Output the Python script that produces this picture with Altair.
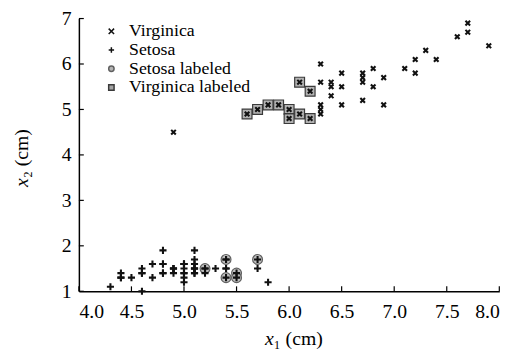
import altair as alt
import pandas as pd

# ---- data ----
setosa_x = [5.1, 4.9, 4.7, 4.6, 5.0, 5.4, 4.6, 5.0, 4.4, 4.9, 5.4, 4.8, 4.8, 4.3, 5.8, 5.7, 5.4,
            5.1, 5.7, 5.1, 5.4, 5.1, 4.6, 5.1, 4.8, 5.0, 5.0, 5.2, 5.2, 4.7, 4.8, 5.4, 5.2, 5.5,
            4.9, 5.0, 5.5, 4.9, 4.4, 5.1, 5.0, 4.5, 4.4, 5.0, 5.1, 4.8, 5.1, 4.6, 5.3, 5.0]
setosa_y = [1.4, 1.4, 1.3, 1.5, 1.4, 1.7, 1.4, 1.5, 1.4, 1.5, 1.5, 1.6, 1.4, 1.1, 1.2, 1.5, 1.3,
            1.4, 1.7, 1.5, 1.7, 1.5, 1.0, 1.7, 1.9, 1.6, 1.6, 1.5, 1.4, 1.6, 1.6, 1.5, 1.5, 1.4,
            1.5, 1.2, 1.3, 1.5, 1.3, 1.5, 1.3, 1.3, 1.3, 1.6, 1.9, 1.4, 1.6, 1.4, 1.5, 1.4]

virg_x = [5.6, 5.7, 5.8, 5.9, 6.0, 6.0, 6.1, 6.2, 6.1, 6.2,
          4.9, 6.3, 6.3, 6.3, 6.3, 6.3, 6.4, 6.4, 6.4, 6.5, 6.5, 6.5, 6.7, 6.7, 6.7, 6.7,
          6.8, 6.8, 6.9, 6.9, 7.1, 7.2, 7.2, 7.3, 7.4, 7.6, 7.7, 7.7, 7.9]
virg_y = [4.9, 5.0, 5.1, 5.1, 5.0, 4.8, 4.9, 4.8, 5.6, 5.4,
          4.5, 6.0, 5.6, 5.1, 5.0, 4.9, 5.6, 5.5, 5.3, 5.8, 5.5, 5.1, 5.8, 5.7, 5.6, 5.2,
          5.9, 5.5, 5.7, 5.1, 5.9, 6.1, 5.8, 6.3, 6.1, 6.6, 6.9, 6.7, 6.4]

setosa_lab_x = [5.2, 5.4, 5.4, 5.5, 5.5, 5.7]
setosa_lab_y = [1.5, 1.7, 1.3, 1.4, 1.3, 1.7]

virg_lab_x = [5.6, 5.7, 5.8, 5.9, 6.0, 6.0, 6.1, 6.2, 6.1, 6.2]
virg_lab_y = [4.9, 5.0, 5.1, 5.1, 5.0, 4.8, 4.9, 4.8, 5.6, 5.4]

series_order = ["Virginica", "Setosa", "Setosa labeled", "Virginica labeled"]
x_ticks = [4.0, 4.5, 5.0, 5.5, 6.0, 6.5, 7.0, 7.5, 8.0]
y_ticks = [1, 2, 3, 4, 5, 6, 7]

W, H = 427, 277
FONT = "Liberation Serif"

pts = pd.concat([
    pd.DataFrame({"x": virg_x, "y": virg_y, "series": "Virginica"}),
    pd.DataFrame({"x": setosa_x, "y": setosa_y, "series": "Setosa"}),
])
lab = pd.concat([
    pd.DataFrame({"x": setosa_lab_x, "y": setosa_lab_y, "series": "Setosa labeled"}),
    pd.DataFrame({"x": virg_lab_x, "y": virg_lab_y, "series": "Virginica labeled"}),
])

xpath = "M-1,-1L1,1M1,-1L-1,1"
pluspath = "M-1,0L1,0M0,-1L0,1"

xs = alt.Scale(domain=[4, 8], nice=False, zero=False)
ys = alt.Scale(domain=[1, 7], nice=False, zero=False)

xaxis = alt.Axis(values=x_ticks, format=".1f", tickSize=0, grid=False, title=None,
                 labelPadding=11, labelFont=FONT, labelFontSize=20)
yaxis = alt.Axis(values=y_ticks, format="d", tickSize=0, grid=False, title=None,
                 labelPadding=8, labelFont=FONT, labelFontSize=20)

enc_common = dict(
    x=alt.X("x:Q", scale=xs, axis=xaxis),
    y=alt.Y("y:Q", scale=ys, axis=yaxis),
    shape=alt.Shape("series:N", scale=alt.Scale(domain=series_order,
                    range=[xpath, pluspath, "circle", "square"]), title=None),
    fill=alt.Fill("series:N", scale=alt.Scale(domain=series_order,
                  range=["transparent", "transparent", "#b4b4b4", "#a4a4a4"]), title=None),
    stroke=alt.Stroke("series:N", scale=alt.Scale(domain=series_order,
                      range=["#111111", "#111111", "#606060", "#3a3a3a"]), title=None),
)

lab_layer = alt.Chart(lab).mark_point(size=100, strokeWidth=1.2, opacity=1, filled=False).encode(
    **enc_common,
    fillOpacity=alt.value(0.85),
)
pts_layer = alt.Chart(pts).mark_point(strokeWidth=2.1, opacity=1).encode(
    **enc_common,
    size=alt.condition(alt.datum.series == "Setosa", alt.value(52), alt.value(22)),
)

xt = alt.Chart(pd.DataFrame({"v": x_ticks})).mark_rule(color="black", strokeWidth=1.2).encode(
    x=alt.X("v:Q", scale=xs), y=alt.value(H), y2=alt.value(H - 5))
yt = alt.Chart(pd.DataFrame({"v": y_ticks})).mark_rule(color="black", strokeWidth=1.2).encode(
    y=alt.Y("v:Q", scale=ys), x=alt.value(0), x2=alt.value(5))

def txt(s, x, y, italic=False, angle=0, size=20):
    kw = dict(text=s, font=FONT, fontSize=size, align="left", baseline="alphabetic", color="black")
    if italic:
        kw["fontStyle"] = "italic"
    if angle:
        kw["angle"] = angle
    return alt.Chart(pd.DataFrame({"a": [0]})).mark_text(**kw).encode(
        x=alt.value(x), y=alt.value(y))

titles = [
    txt("x", 189, 332, italic=True),
    txt("\u2081 (cm)", 198, 332),
    txt("x", -52, 171, italic=True, angle=270),
    txt("\u2082 (cm)", -52, 162, angle=270),
]

chart = alt.layer(lab_layer, pts_layer, xt, yt, *titles).properties(
    width=W, height=H,
    autosize=alt.AutoSizeParams(type="none"),
    padding={"left": 72, "top": 8, "right": 20, "bottom": 61},
).resolve_scale(shape="shared", fill="shared", stroke="shared").configure_view(
    stroke=None
).configure_axis(
    domainColor="black", domainWidth=1.5, labelColor="black",
).configure_legend(
    orient="none", legendX=24, legendY=4, labelFont=FONT, labelFontSize=18,
    labelColor="black", symbolSize=30, rowPadding=1, labelOffset=9,
    symbolStrokeWidth=1.5, title=None,
)

chart.save("out.html", embed_options={"renderer": "svg", "actions": False})
